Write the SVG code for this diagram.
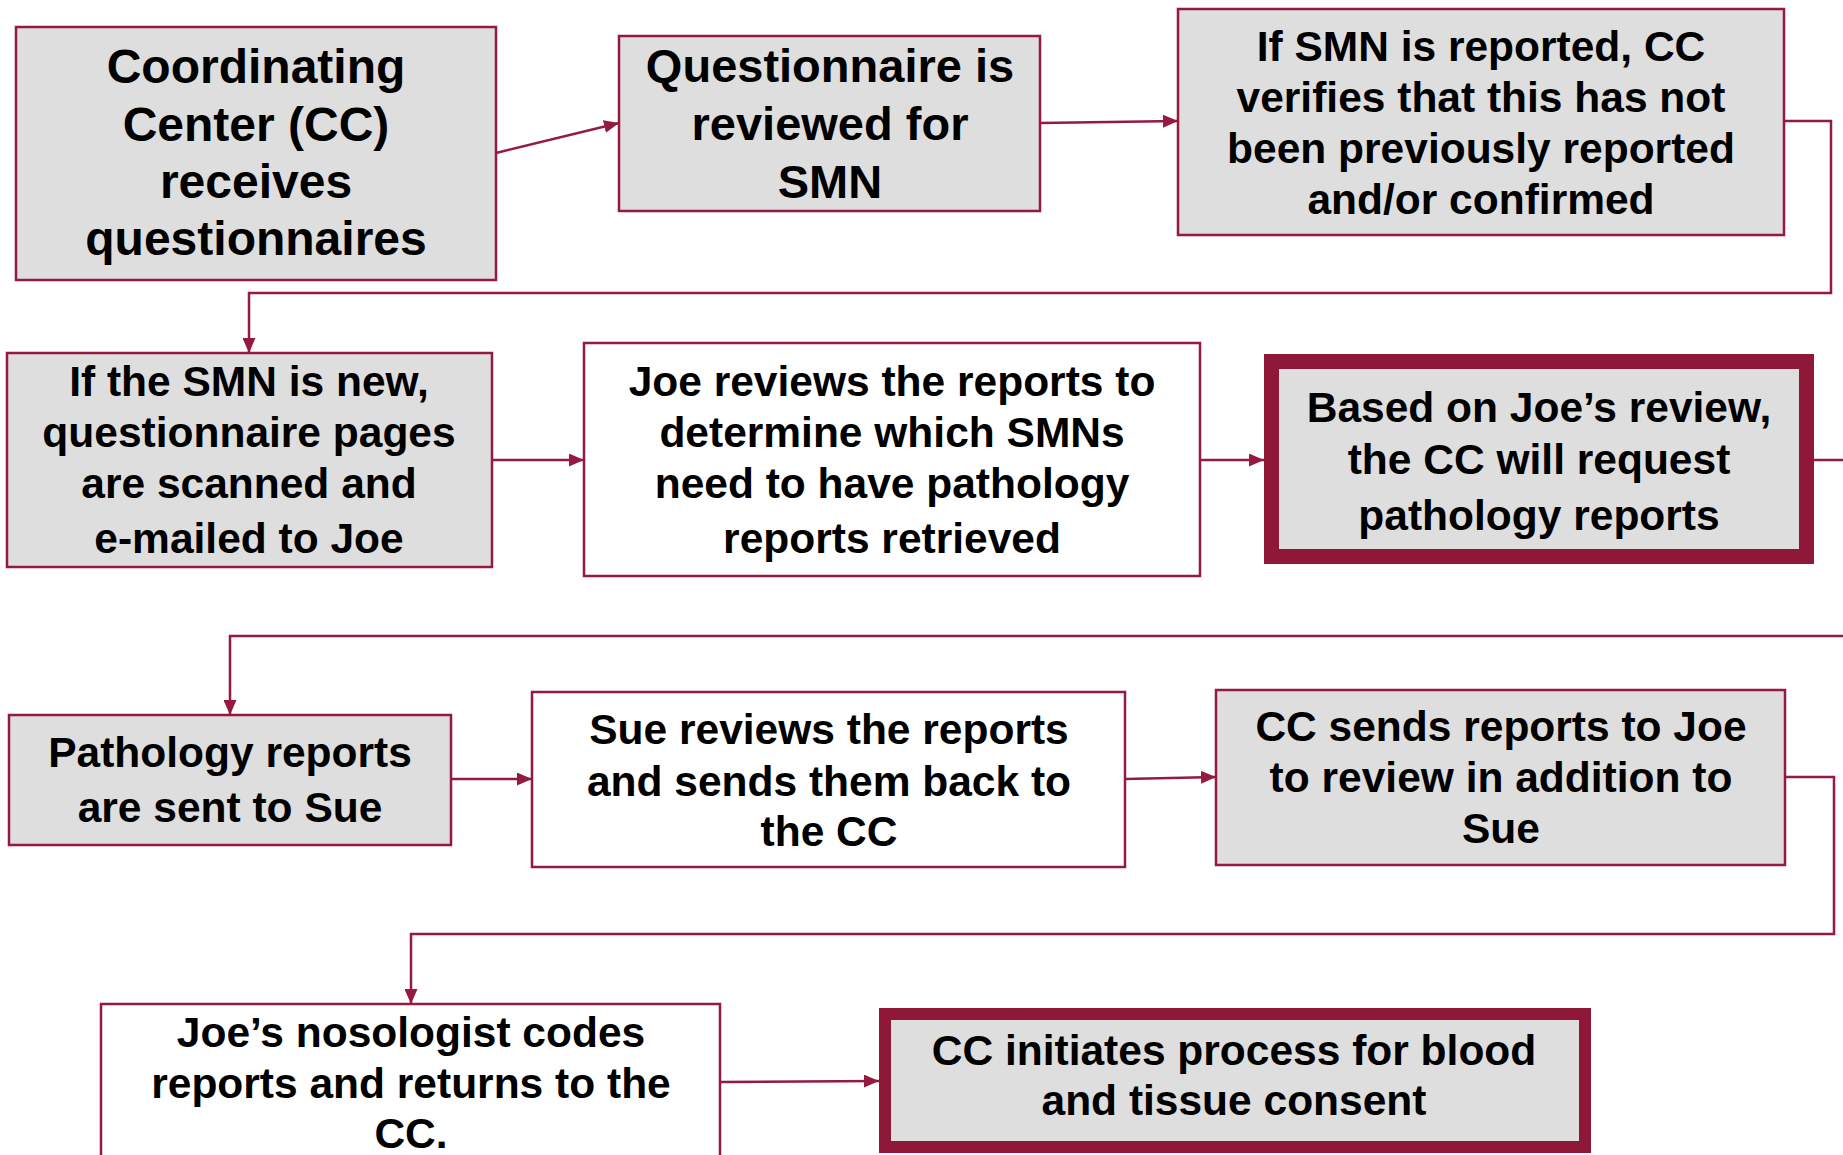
<svg xmlns="http://www.w3.org/2000/svg" width="1843" height="1155" viewBox="0 0 1843 1155">
<style>
.box{fill:#dedede;stroke:#951a3f;stroke-width:2.5}
.wbox{fill:#ffffff;stroke:#951a3f;stroke-width:2.5}
.thick{fill:#dedede;stroke:#8f1738}
.t{font-family:"Liberation Sans",Arial,sans-serif;font-weight:bold;fill:#000;text-anchor:middle}
.f48{font-size:48px}
.f46{font-size:47px}
.f42{font-size:42.5px}
.c{fill:none;stroke:#951a3f;stroke-width:2.5}
</style>
<defs>
<marker id="ah" markerUnits="userSpaceOnUse" markerWidth="15" markerHeight="13" refX="15" refY="6.5" orient="auto">
<path d="M0,0 L15,6.5 L0,13 z" fill="#951a3f"/>
</marker>
</defs>
<rect width="1843" height="1155" fill="#ffffff"/>
<g id="connectors">
<path class="c" d="M496,153 L619,123" marker-end="url(#ah)"/>
<path class="c" d="M1040,123 L1178,121" marker-end="url(#ah)"/>
<path class="c" d="M1784,121 L1831,121 L1831,293 L249,293 L249,353" marker-end="url(#ah)"/>
<path class="c" d="M492,460 L584,460" marker-end="url(#ah)"/>
<path class="c" d="M1200,460 L1264,460" marker-end="url(#ah)"/>
<path class="c" d="M1814,460 L1850,460 L1850,636 L230,636 L230,715" marker-end="url(#ah)"/>
<path class="c" d="M451,779 L532,779" marker-end="url(#ah)"/>
<path class="c" d="M1125,779 L1216,777" marker-end="url(#ah)"/>
<path class="c" d="M1785,777 L1834,777 L1834,934 L411,934 L411,1004" marker-end="url(#ah)"/>
<path class="c" d="M720,1082 L879,1081" marker-end="url(#ah)"/>
</g>
<g id="n1">
<rect class="box" x="16" y="27" width="480" height="253"/>
<text class="t f48" x="256"><tspan x="256" y="83">Coordinating</tspan><tspan x="256" y="141">Center (CC)</tspan><tspan x="256" y="198">receives</tspan><tspan x="256" y="255">questionnaires</tspan></text>
</g>
<g id="n2">
<rect class="box" x="619" y="36" width="421" height="175"/>
<text class="t f46" x="830"><tspan x="830" y="82">Questionnaire is</tspan><tspan x="830" y="140">reviewed for</tspan><tspan x="830" y="198">SMN</tspan></text>
</g>
<g id="n3">
<rect class="box" x="1178" y="9" width="606" height="226"/>
<text class="t f42" x="1481"><tspan x="1481" y="61">If SMN is reported, CC</tspan><tspan x="1481" y="112">verifies that this has not</tspan><tspan x="1481" y="163">been previously reported</tspan><tspan x="1481" y="214">and/or confirmed</tspan></text>
</g>
<g id="n4">
<rect class="box" x="7" y="353" width="485" height="214"/>
<text class="t f42" x="249"><tspan x="249" y="396">If the SMN is new,</tspan><tspan x="249" y="447">questionnaire pages</tspan><tspan x="249" y="498">are scanned and</tspan><tspan x="249" y="553">e-mailed to Joe</tspan></text>
</g>
<g id="n5">
<rect class="wbox" x="584" y="343" width="616" height="233"/>
<text class="t f42" x="892"><tspan x="892" y="396">Joe reviews the reports to</tspan><tspan x="892" y="447">determine which SMNs</tspan><tspan x="892" y="498">need to have pathology</tspan><tspan x="892" y="553">reports retrieved</tspan></text>
</g>
<g id="n6">
<rect class="thick" x="1271.5" y="361.5" width="535" height="195" stroke-width="15"/>
<text class="t f42" x="1539"><tspan x="1539" y="422">Based on Joe’s review,</tspan><tspan x="1539" y="474">the CC will request</tspan><tspan x="1539" y="530">pathology reports</tspan></text>
</g>
<g id="n7">
<rect class="box" x="9" y="715" width="442" height="130"/>
<text class="t f42" x="230"><tspan x="230" y="767">Pathology reports</tspan><tspan x="230" y="822">are sent to Sue</tspan></text>
</g>
<g id="n8">
<rect class="wbox" x="532" y="692" width="593" height="175"/>
<text class="t f42" x="829"><tspan x="829" y="744">Sue reviews the reports</tspan><tspan x="829" y="796">and sends them back to</tspan><tspan x="829" y="846">the CC</tspan></text>
</g>
<g id="n9">
<rect class="box" x="1216" y="690" width="569" height="175"/>
<text class="t f42" x="1501"><tspan x="1501" y="741">CC sends reports to Joe</tspan><tspan x="1501" y="792">to review in addition to</tspan><tspan x="1501" y="843">Sue</tspan></text>
</g>
<g id="n10">
<rect class="wbox" x="101" y="1004" width="619" height="170"/>
<text class="t f42" x="411"><tspan x="411" y="1047">Joe’s nosologist codes</tspan><tspan x="411" y="1098">reports and returns to the</tspan><tspan x="411" y="1148">CC.</tspan></text>
</g>
<g id="n11">
<rect class="thick" x="885" y="1014" width="700" height="133" stroke-width="12"/>
<text class="t f42" x="1234"><tspan x="1234" y="1065">CC initiates process for blood</tspan><tspan x="1234" y="1115">and tissue consent</tspan></text>
</g>
</svg>
